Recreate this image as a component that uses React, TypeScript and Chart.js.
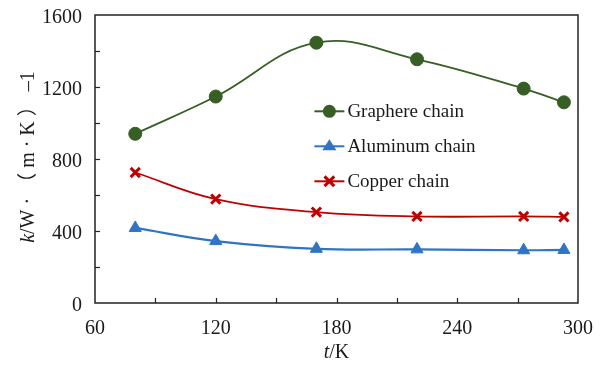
import React, { useEffect, useRef } from "react";
import { Chart, registerables } from "chart.js";

Chart.register(...registerables);

const temperatures = [80, 120, 170, 220, 273, 293];
const graphene = [940, 1147, 1446, 1354, 1191, 1115];
const aluminum = [417, 344, 301, 298, 293, 295];
const copper = [725, 577, 505, 481, 481, 478];

const xTickValues = [60, 120, 180, 240, 300];
const yTickValues = [0, 400, 800, 1200, 1600];
const xMinorStep = 30;
const yMinorStep = 200;

const seriesNames = ["Graphere chain", "Aluminum chain", "Copper chain"];
const seriesColors = ["#375e25", "#2f74c6", "#c00000"];
const seriesMarkers = ["circle", "triangle", "crossRot"];

const FONT = "'Liberation Serif', 'Times New Roman', 'Noto Sans CJK SC', serif";

function drawMarker(ctx: CanvasRenderingContext2D, style: string, x: number, y: number, r: number, bw: number, fill: string) {
  ctx.save();
  ctx.fillStyle = fill;
  ctx.strokeStyle = fill;
  ctx.lineWidth = bw;
  ctx.beginPath();
  if (style === "circle") {
    ctx.arc(x, y, r, 0, Math.PI * 2);
    ctx.fill();
  } else if (style === "triangle") {
    ctx.moveTo(x, y - r);
    ctx.lineTo(x + r * 0.87 + 1, y + r * 0.5 + 0.5);
    ctx.lineTo(x - r * 0.87 - 1, y + r * 0.5 + 0.5);
    ctx.closePath();
    ctx.fill();
  } else {
    const d = r * 0.75;
    ctx.moveTo(x - d, y - d);
    ctx.lineTo(x + d, y + d);
    ctx.moveTo(x + d, y - d);
    ctx.lineTo(x - d, y + d);
    ctx.stroke();
  }
  ctx.restore();
}

const framePlugin = {
  id: "frameTicks",
  afterDraw(chart: any) {
    const { ctx, chartArea } = chart;
    const xs = chart.scales.x;
    const ys = chart.scales.y;
    ctx.save();
    ctx.strokeStyle = "#222";
    ctx.lineWidth = 1.5;
    ctx.strokeRect(chartArea.left, chartArea.top, chartArea.right - chartArea.left, chartArea.bottom - chartArea.top);
    ctx.lineWidth = 1.2;
    for (let v = xs.min + xMinorStep; v < xs.max; v += xMinorStep) {
      const px = Math.round(xs.getPixelForValue(v)) + 0.5;
      ctx.beginPath();
      ctx.moveTo(px, chartArea.bottom);
      ctx.lineTo(px, chartArea.bottom - 5);
      ctx.stroke();
    }
    for (let v = ys.min + yMinorStep; v < ys.max; v += yMinorStep) {
      const py = Math.round(ys.getPixelForValue(v)) + 0.5;
      ctx.beginPath();
      ctx.moveTo(chartArea.left, py);
      ctx.lineTo(chartArea.left + 5, py);
      ctx.stroke();
    }

    // legend
    const lx = xs.getPixelForValue(170) - 2;
    const ly0 = ys.getPixelForValue(1065);
    const gap = 35;
    chart.data.datasets.forEach((ds: any, i: number) => {
      const y = ly0 + i * gap;
      ctx.strokeStyle = ds.borderColor;
      ctx.lineWidth = 2;
      ctx.beginPath();
      ctx.moveTo(lx, y);
      ctx.lineTo(lx + 30, y);
      ctx.stroke();
      drawMarker(ctx, ds.pointStyle, lx + 15, y, ds.pointRadius, ds.pointBorderWidth, ds.pointBackgroundColor);
      ctx.fillStyle = "#1a1a1a";
      ctx.font = `19px ${FONT}`;
      ctx.textBaseline = "middle";
      ctx.textAlign = "left";
      ctx.fillText(ds.label, lx + 33, y + 1);
    });

    // axis titles
    ctx.fillStyle = "#1a1a1a";
    ctx.textBaseline = "middle";
    const xTitleY = 353;
    const xCenter = (chartArea.left + chartArea.right) / 2;
    ctx.font = `italic 20px ${FONT}`;
    const tW = ctx.measureText("t").width;
    ctx.font = `20px ${FONT}`;
    const kW = ctx.measureText("/K").width;
    const sx = xCenter - (tW + kW) / 2;
    ctx.font = `italic 20px ${FONT}`;
    ctx.textAlign = "left";
    ctx.fillText("t", sx, xTitleY);
    ctx.font = `20px ${FONT}`;
    ctx.fillText("/K", sx + tW, xTitleY);

    ctx.translate(29, 157);
    ctx.rotate(-Math.PI / 2);
    ctx.font = `italic 20px ${FONT}`;
    const kw2 = ctx.measureText("k").width;
    ctx.font = `20px ${FONT}`;
    const rest = "/W · （ m · K ） –1";
    const rw = ctx.measureText(rest).width;
    const st = -(kw2 + rw) / 2;
    ctx.font = `italic 20px ${FONT}`;
    ctx.fillText("k", st, 0);
    ctx.font = `20px ${FONT}`;
    ctx.fillText(rest, st + kw2, 0);
    ctx.restore();
  },
};

export default function App() {
  const ref = useRef<HTMLCanvasElement>(null);
  useEffect(() => {
    const seriesValues = [graphene, aluminum, copper];
    const datasets = seriesValues.map((vals, i) => ({
      label: seriesNames[i],
      data: temperatures.map((t, j) => ({ x: t, y: vals[j] })),
      borderColor: seriesColors[i],
      backgroundColor: seriesColors[i],
      pointBackgroundColor: seriesColors[i],
      pointBorderColor: seriesColors[i],
      pointStyle: seriesMarkers[i],
      pointRadius: i === 0 ? 6.5 : i === 1 ? 7 : 6.5,
      pointBorderWidth: i === 2 ? 3 : 1,
      borderWidth: i === 1 ? 2.2 : 1.8,
      tension: 0.4,
      fill: false,
    }));
    const chart = new Chart(ref.current!, {
      type: "line",
      data: { datasets },
      options: {
        animation: false,
        responsive: false,
        layout: { padding: { top: 15, right: 29, left: 0, bottom: 0 } },
        plugins: { legend: { display: false }, tooltip: { enabled: false } },
        scales: {
          x: {
            type: "linear",
            min: 60,
            max: 300,
            afterBuildTicks: (s: any) => {
              s.ticks = xTickValues.map((v) => ({ value: v }));
            },
            afterFit: (s: any) => {
              s.height = 66;
              s.paddingLeft = 0;
              s.paddingRight = 0;
            },
            grid: { display: false, drawTicks: false },
            border: { display: false },
            ticks: { color: "#1a1a1a", font: { family: FONT, size: 20 }, padding: 14, maxRotation: 0, callback: (v: any) => String(v) },
          },
          y: {
            min: 0,
            max: 1600,
            afterBuildTicks: (s: any) => {
              s.ticks = yTickValues.map((v) => ({ value: v }));
            },
            afterFit: (s: any) => {
              s.width = 95;
              s.paddingTop = 0;
              s.paddingBottom = 0;
            },
            grid: { display: false, drawTicks: false },
            border: { display: false },
            ticks: { color: "#1a1a1a", font: { family: FONT, size: 20 }, padding: 13, labelOffset: 3, callback: (v: any) => String(v) },
          },
        },
      },
      plugins: [framePlugin],
    } as any);
    return () => chart.destroy();
  }, []);
  return (
    <div style={{ position: "absolute", left: 0, top: 0, width: 607, height: 369, background: "#fff" }}>
      <canvas ref={ref} width={607} height={369} style={{ width: 607, height: 369, display: "block" }} />
    </div>
  );
}
